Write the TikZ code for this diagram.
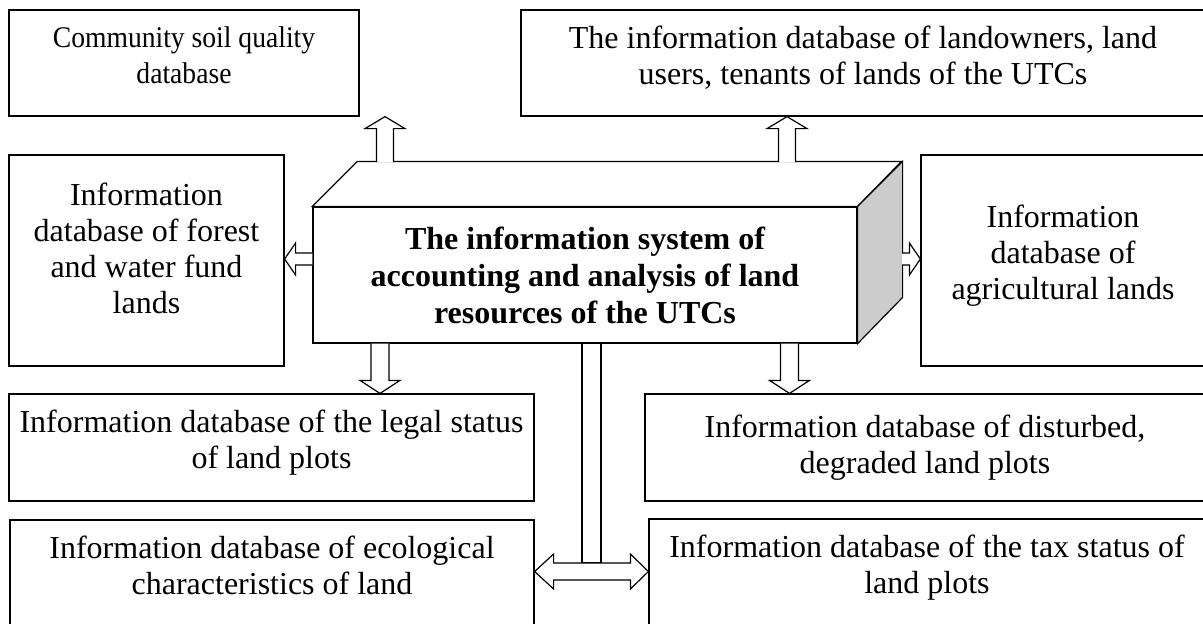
\documentclass[tikz,border=0pt]{standalone}
\usepackage{fontspec}
\usepackage{graphicx}
\setmainfont{Liberation Serif}
\usetikzlibrary{calc}

\tikzset{
  dbbox/.style={draw, line width=0.6pt, fill=white, align=center, inner sep=0pt,
    text depth=8pt, font=\fontsize{16}{18}\selectfont},
  sysbox/.style={draw, line width=0.6pt, fill=white, align=center, inner sep=0pt,
    font=\bfseries\fontsize{16}{18.5}\selectfont},
  fatline/.style={draw, line width=0.6pt, fill=white, line join=miter},
  sideface/.style={draw, line width=0.6pt, fill=black!20},
}

% hollow block arrow: start, tip, half shaft, half head, head length
\newcommand{\fatarrow}[5]{%
  \coordinate (fa-b) at ($(#2)!#5!(#1)$);
  \draw[fatline] ($(#1)!#3!90:(#2)$) -- ($(fa-b)!#3!90:(#2)$) -- ($(fa-b)!#4!90:(#2)$)
    -- (#2) -- ($(fa-b)!#4!-90:(#2)$) -- ($(fa-b)!#3!-90:(#2)$) -- ($(#1)!#3!-90:(#2)$);
}
\newcommand{\narrow}[1]{\scalebox{0.92}[1]{#1}}

\begin{document}
\begin{tikzpicture}[x=0.5pt, y=-0.5pt]
  \useasboundingbox (0,0) rectangle (1203,623);

  % databases round the system
  \node[dbbox, minimum width=175pt, minimum height=53pt, font=\fontsize{15}{18}\selectfont] (soil) at (184,63)
    {\narrow{Community soil quality}\\\narrow{database}};
  \node[dbbox, minimum width=342pt, minimum height=53pt] (owners) at (863,63)
    {The information database of landowners, land\\users, tenants of lands of the UTCs};
  \node[dbbox, minimum width=137.5pt, minimum height=105.5pt, text depth=12pt] (forest) at (146.5,260.5)
    {Information\\database of forest\\and water fund\\lands};
  \node[dbbox, minimum width=142pt, minimum height=105.5pt] (agri) at (1063,260.5)
    {Information\\database of\\agricultural lands};
  \node[dbbox, minimum width=262.5pt, minimum height=53.5pt] (legal) at (271.5,447.5)
    {Information database of the legal status\\of land plots};
  \node[dbbox, minimum width=280pt, minimum height=53.5pt, text depth=3pt] (disturbed) at (925,447.5)
    {Information database of disturbed,\\degraded land plots};
  \node[dbbox, minimum width=262pt, minimum height=53pt] (eco) at (272,573)
    {Information database of ecological\\characteristics of land};
  \node[dbbox, minimum width=278pt, minimum height=53.5pt] (tax) at (927,572.5)
    {Information database of the tax status of\\land plots};

  % the system as a box
  \node[sysbox, minimum width=272pt, minimum height=68pt] (sys) at (585,275)
    {The information system of\\accounting and analysis of land\\resources of the UTCs};
  \draw[fatline] (sys.north west) -- ++(45,-45) -- ++(544,0) -- (sys.north east) -- cycle;
  \draw[sideface] (sys.north east) -- ++(45,-45) -- ++(0,136) -- (sys.south east) -- cycle;

  % arrows
  \coordinate (up1) at (385,162);
  \coordinate (up2) at (787,162);
  \coordinate (mid) at (902,259);
  \coordinate (dn1) at (380,0);
  \coordinate (dn2) at (789.5,0);
  \fatarrow{up1}{up1 |- soil.south}{4.25pt}{10pt}{6pt}
  \fatarrow{up2}{up2 |- owners.south}{4.25pt}{10pt}{6pt}
  \fatarrow{sys.west |- mid}{forest.east |- mid}{3pt}{8pt}{5.5pt}
  \fatarrow{mid}{agri.west |- mid}{3pt}{8pt}{5.5pt}
  \fatarrow{dn1 |- sys.south}{dn1 |- legal.north}{4.5pt}{10pt}{6.5pt}
  \fatarrow{dn2 |- sys.south}{dn2 |- disturbed.north}{4.5pt}{10pt}{6.5pt}

  % stem down to the two-way link
  \coordinate (lk) at (591.5,571.5);
  \draw[fatline] ($(lk |- sys.south)+(-9.5,0)$) rectangle ($(lk)+(9.5,-8.5)$);
  \draw[fatline] (eco.east |- lk) -- ++(19,-17.5) -- ++(0,9) -- ($(tax.west |- lk)+(-18,-8.5)$)
    -- ++(0,-9) -- (tax.west |- lk) -- ++(-18,17.5) -- ++(0,-9)
    -- ($(eco.east |- lk)+(19,8.5)$) -- ++(0,9) -- cycle;
\end{tikzpicture}
\end{document}
